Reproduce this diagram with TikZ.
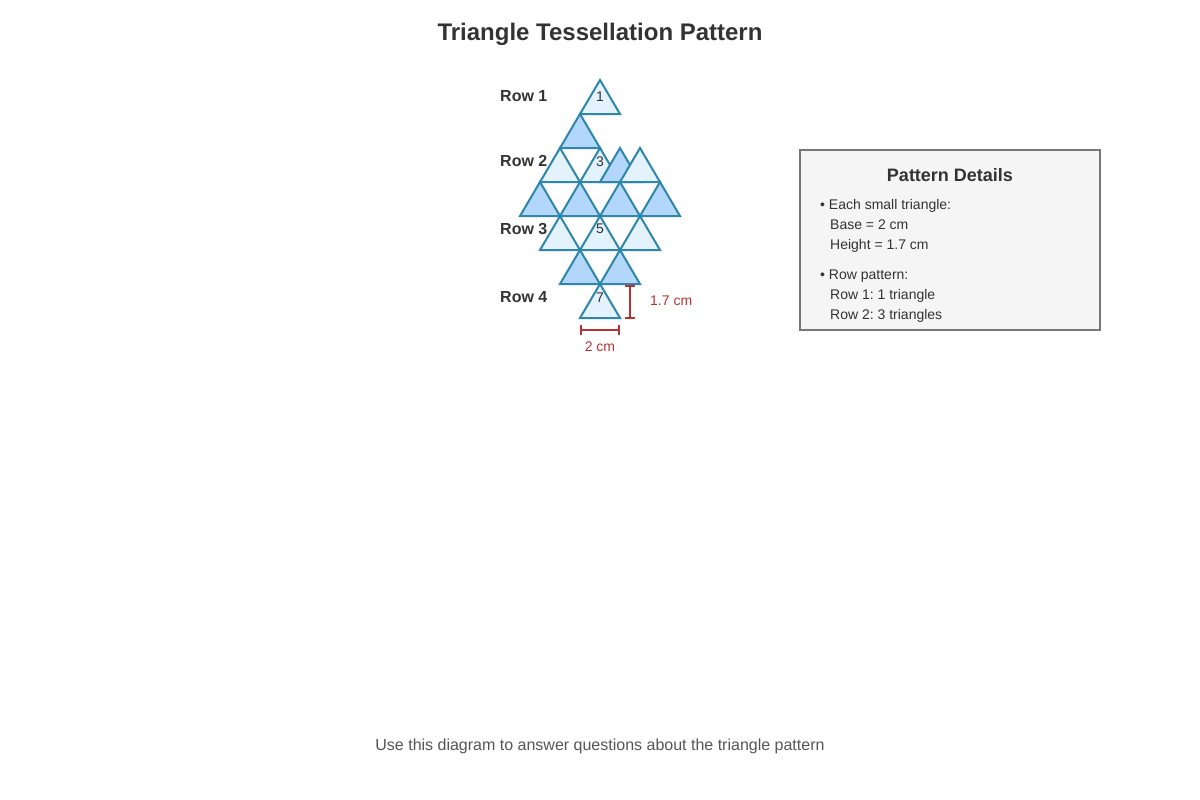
\documentclass[tikz,border=0pt]{standalone}
\usepackage{fontspec}
\setmainfont{Liberation Sans}
\usetikzlibrary{arrows.meta}
\frenchspacing

\definecolor{tri}{HTML}{2E86AB}
\definecolor{trilite}{HTML}{E3F2FD}
\definecolor{tridark}{HTML}{B3D7FA}
\definecolor{ink}{HTML}{333333}
\definecolor{dimred}{HTML}{B83232}
\definecolor{panelfill}{HTML}{F5F5F5}
\definecolor{panelline}{HTML}{777777}
\definecolor{foot}{HTML}{555555}

\begin{document}
\begin{tikzpicture}[
        x=1pt, y=-1pt,
        lite/.style={draw=tri, fill=trilite, line width=2pt},
        dark/.style={draw=tri, fill=tridark, line width=2pt},
        dim/.style={draw=dimred, line width=2pt},
        rowlabel/.style={anchor=west, font=\fontsize{16}{19}\selectfont\bfseries},
        info/.style={anchor=west, text height=10pt, text depth=3pt, font=\fontsize{14}{17}\selectfont}
    ]

    \tikzstyle{every node}=[text=ink, inner sep=0pt, yshift=-1.2pt]

    \useasboundingbox (0,0) rectangle (1200,800);

    \node (title) at (600,33) {\fontsize{24}{28}\selectfont\bfseries Triangle Tessellation Pattern};

    % apex x / apex y / fill
    \foreach \x/\y/\s in {600/80/lite, 580/114/dark,
            560/148/lite, 600/148/lite, 620/148/dark, 640/148/lite,
            540/182/dark, 580/182/dark, 620/182/dark, 660/182/dark,
            560/216/lite, 600/216/lite, 640/216/lite,
            580/250/dark, 620/250/dark,
            600/284/lite}
        \draw[\s] (\x,\y) -- ++(-20,34) -- ++(40,0) -- cycle;

    \foreach \n/\y in {1/95, 3/160, 5/228, 7/296}
        \node (num\n) at (600,\y) {\fontsize{14}{17}\selectfont \n};

    \node (row1) [rowlabel] at (500,95) {Row 1};
    \node (row2) [rowlabel] at (500,160) {Row 2};
    \node (row3) [rowlabel] at (500,228) {Row 3};
    \node (row4) [rowlabel] at (500,296) {Row 4};

    % dimensions
    \coordinate (htop) at (630,284);
    \coordinate (hbot) at (630,318);
    \coordinate (wleft) at (580,329);
    \coordinate (wright) at (620,329);
    \draw[dim, {Bar[width=10pt]}-{Bar[width=10pt]}] (htop) -- (hbot);
    \draw[dim, {Bar[width=10pt]}-{Bar[width=10pt]}] (wleft) -- (wright);
    \node (hlabel) [anchor=west, text=dimred] at (650,300) {\fontsize{14}{17}\selectfont 1.7 cm};
    \node (wlabel) [text=dimred] at (600,345) {\fontsize{14}{17}\selectfont 2 cm};

    % details panel
    \node (panel) [draw=panelline, fill=panelfill, line width=1.5pt,
        minimum width=300pt, minimum height=180pt, yshift=1.2pt] at (950,240) {};
    \node (phead) at (950,174) {\fontsize{18}{22}\selectfont\bfseries Pattern Details};
    \node (p1) [info] at (820,205) {• Each small triangle:};
    \node (p2) [info] at (830,225) {Base = 2 cm};
    \node (p3) [info] at (830,245) {Height = 1.7 cm};
    \node (p4) [info] at (820,275) {• Row pattern:};
    \node (p5) [info] at (830,295) {Row 1: 1 triangle};
    \node (p6) [info] at (830,315) {Row 2: 3 triangles};

    \node (footer) [text=foot] at (600,745) {\fontsize{16}{19}\selectfont Use this diagram to answer questions about the triangle pattern};

\end{tikzpicture}
\end{document}
